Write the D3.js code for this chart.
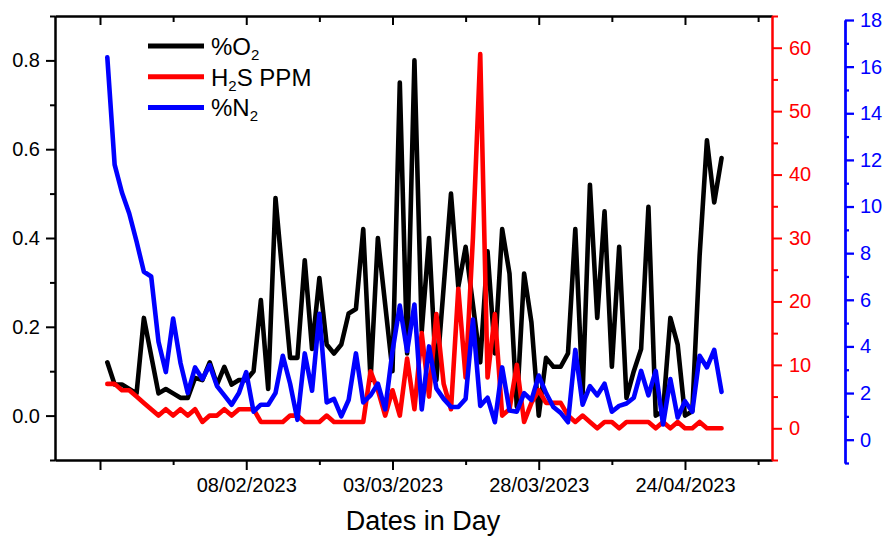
<!DOCTYPE html>
<html>
<head>
<meta charset="utf-8">
<script src="https://cdn.jsdelivr.net/npm/d3@7"></script>
<style>
  body { margin: 0; background: #fff; }
  svg { font-family: Arial, "Liberation Sans", sans-serif; }
</style>
</head>
<body>
<div id="chart"></div>
<script>
// readings, one per sample (85 samples)
var o2 = [0.12, 0.07, 0.07, 0.06, 0.05, 0.22, 0.135, 0.05, 0.06, 0.05,
          0.04, 0.04, 0.085, 0.08, 0.12, 0.07, 0.11, 0.07, 0.08, 0.08,
          0.10, 0.26, 0.06, 0.49, 0.31, 0.13, 0.13, 0.35, 0.15, 0.31,
          0.16, 0.14, 0.16, 0.23, 0.24, 0.42, 0.08, 0.40, 0.25, 0.10,
          0.75, 0.14, 0.80, 0.19, 0.40, 0.08, 0.29, 0.50, 0.29, 0.38,
          0.25, 0.12, 0.37, 0.14, 0.42, 0.32, 0.02, 0.32, 0.21, 0.00,
          0.13, 0.11, 0.11, 0.14, 0.42, 0.05, 0.52, 0.22, 0.46, 0.11,
          0.38, 0.04, 0.10, 0.15, 0.47, 0.00, 0.01, 0.22, 0.16, 0.00,
          0.01, 0.36, 0.62, 0.48, 0.58];

var h2s = [7, 7, 6, 6, 5, 4, 3, 2, 3, 2,
           3, 2, 3, 1, 2, 2, 3, 2, 3, 3,
           3, 1, 1, 1, 1, 2, 2, 1, 1, 1,
           2, 1, 1, 1, 1, 1, 9, 6, 2, 6,
           2, 11, 3, 15, 5, 18, 7, 3, 22, 8,
           30, 59, 8, 18, 2, 3, 10, 1, 4, 6,
           4, 4, 4, 2, 1, 2, 1, 0, 1, 1,
           0, 1, 1, 1, 1, 0, 1, 0, 1, 0,
           0, 1, 0, 0, 0];

var n2 = [16.4, 11.8, 10.6, 9.7, 8.5, 7.2, 7.0, 4.2, 2.9, 5.2,
          3.3, 2.0, 3.1, 2.6, 3.2, 2.3, 1.9, 1.5, 2.0, 2.9,
          1.2, 1.5, 1.5, 2.0, 3.6, 2.4, 0.85, 3.7, 2.1, 5.4,
          1.6, 1.75, 1.0, 1.7, 3.7, 1.6, 1.9, 2.4, 1.3, 3.8,
          5.75, 3.8, 5.8, 1.3, 4.0, 2.2, 1.75, 1.4, 1.4, 1.75,
          5.15, 1.45, 1.8, 0.75, 3.1, 1.25, 1.2, 2.0, 1.7, 2.75,
          2.0, 1.4, 1.15, 0.75, 3.85, 1.5, 2.3, 1.9, 2.4, 1.2,
          1.45, 1.55, 1.8, 2.95, 1.9, 2.95, 0.65, 2.6, 0.95, 1.65,
          1.2, 3.6, 3.1, 3.85, 2.05];

var xMajor = [0, 20, 40, 60, 80];
var xLabels = ["", "08/02/2023", "03/03/2023", "28/03/2023", "24/04/2023"];
var xMinor = [10, 30, 50, 70, 90];

var o2Major = [0, 0.2, 0.4, 0.6, 0.8];
var o2Minor = [-0.1, 0.1, 0.3, 0.5, 0.7, 0.9];
var h2sMajor = [0, 10, 20, 30, 40, 50, 60];
var h2sMinor = [-5, 5, 15, 25, 35, 45, 55, 65];
var n2Major = [0, 2, 4, 6, 8, 10, 12, 14, 16, 18];
var n2Minor = [-1, 1, 3, 5, 7, 9, 11, 13, 15, 17];

var legendItems = [
  {name: "%O", sub: "2", rest: "", color: "#000000"},
  {name: "H", sub: "2", rest: "S PPM", color: "#ff0000"},
  {name: "%N", sub: "2", rest: "", color: "#0000ff"}
];

// frame
var W = 885, H = 536;
var plotLeft = 55, plotRight = 772, plotTop = 16, plotBottom = 460;

var sampleIndex = o2.map(function(d, i) { return i + 1; });

var x = d3.scaleLinear().domain([-6.154, 91.9]).range([plotLeft, plotRight]);
var yL = d3.scaleLinear().domain([-0.1, 0.9]).range([plotBottom, plotTop]);
var yR = d3.scaleLinear().domain([-5, 65]).range([plotBottom, plotTop]);
var yB = d3.scaleLinear().domain([-1, 18]).range([463, 20]);

var svg = d3.select("#chart").append("svg")
    .attr("width", W)
    .attr("height", H);

function styleAxis(g, color, width) {
  g.selectAll("path").attr("stroke", color).attr("stroke-width", width);
  g.selectAll("line").attr("stroke", color).attr("stroke-width", width);
  g.selectAll("text").attr("fill", color).style("font-size", "20px")
    .style("font-family", "Arial, 'Liberation Sans', sans-serif");
}

// bottom axis
var gb = svg.append("g").attr("transform", "translate(0," + plotBottom + ")")
  .call(d3.axisBottom(x).tickValues(xMajor).tickSize(10).tickSizeOuter(0).tickPadding(8)
    .tickFormat(function(d, i) { return xLabels[i]; }));
styleAxis(gb, "#000", 2);
var gbm = svg.append("g").attr("transform", "translate(0," + plotBottom + ")")
  .call(d3.axisBottom(x).tickValues(xMinor).tickSize(5).tickSizeOuter(0).tickFormat(""));
styleAxis(gbm, "#000", 2);

// top border with inward ticks
var gt = svg.append("g").attr("transform", "translate(0," + plotTop + ")")
  .call(d3.axisBottom(x).tickValues(xMajor).tickSize(9).tickSizeOuter(0).tickFormat(""));
styleAxis(gt, "#000", 2);
var gtm = svg.append("g").attr("transform", "translate(0," + plotTop + ")")
  .call(d3.axisBottom(x).tickValues(xMinor).tickSize(6).tickSizeOuter(0).tickFormat(""));
styleAxis(gtm, "#000", 2);

// left axis (%O2)
var gl = svg.append("g").attr("transform", "translate(" + plotLeft + ",0)")
  .call(d3.axisLeft(yL).tickValues(o2Major).tickSize(9).tickSizeOuter(0).tickPadding(6)
    .tickFormat(d3.format(".1f")));
styleAxis(gl, "#000", 2);
var glm = svg.append("g").attr("transform", "translate(" + plotLeft + ",0)")
  .call(d3.axisLeft(yL).tickValues(o2Minor).tickSize(5).tickSizeOuter(0).tickFormat(""));
styleAxis(glm, "#000", 2);

// right axis (H2S)
var gr = svg.append("g").attr("transform", "translate(" + plotRight + ",0)")
  .call(d3.axisRight(yR).tickValues(h2sMajor).tickSize(10).tickSizeOuter(0).tickPadding(7));
styleAxis(gr, "#ff0000", 2);
var grm = svg.append("g").attr("transform", "translate(" + plotRight + ",0)")
  .call(d3.axisRight(yR).tickValues(h2sMinor).tickSize(6).tickSizeOuter(0).tickFormat(""));
styleAxis(grm, "#ff0000", 2);

// offset axis (N2)
var gn = svg.append("g").attr("transform", "translate(845,0)")
  .call(d3.axisRight(yB).tickValues(n2Major).tickSize(9).tickSizeOuter(0).tickPadding(6));
styleAxis(gn, "#0000ff", 2.3);
var gnm = svg.append("g").attr("transform", "translate(845,0)")
  .call(d3.axisRight(yB).tickValues(n2Minor).tickSize(4).tickSizeOuter(0).tickFormat(""));
styleAxis(gnm, "#0000ff", 2.3);

// series lines
function addLine(values, scale, color) {
  var line = d3.line()
    .x(function(d, i) { return x(sampleIndex[i]); })
    .y(function(d) { return scale(d); });
  svg.append("path")
    .datum(values)
    .attr("d", line)
    .attr("fill", "none")
    .attr("stroke", color)
    .attr("stroke-width", 4.6)
    .attr("stroke-linejoin", "round")
    .attr("stroke-linecap", "round");
}
addLine(o2, yL, "#000000");
addLine(h2s, yR, "#ff0000");
addLine(n2, yB, "#0000ff");

// legend
var leg = svg.append("g");
legendItems.forEach(function(d, i) {
  var ly = 46 + i * 30.7;
  leg.append("line")
    .attr("x1", 148).attr("x2", 204)
    .attr("y1", ly).attr("y2", ly)
    .attr("stroke", d.color).attr("stroke-width", 5);
  var t = leg.append("text")
    .attr("x", 211).attr("y", ly + 9)
    .style("font-size", "24px")
    .attr("fill", "#000");
  t.append("tspan").text(d.name);
  t.append("tspan").text(d.sub).style("font-size", "15px").attr("dy", 5);
  if (d.rest) t.append("tspan").text(d.rest).attr("dy", -5);
});

// axis title
svg.append("text")
  .attr("x", 423)
  .attr("y", 530)
  .attr("text-anchor", "middle")
  .style("font-size", "27px")
  .text("Dates in Day");
</script>
</body>
</html>
